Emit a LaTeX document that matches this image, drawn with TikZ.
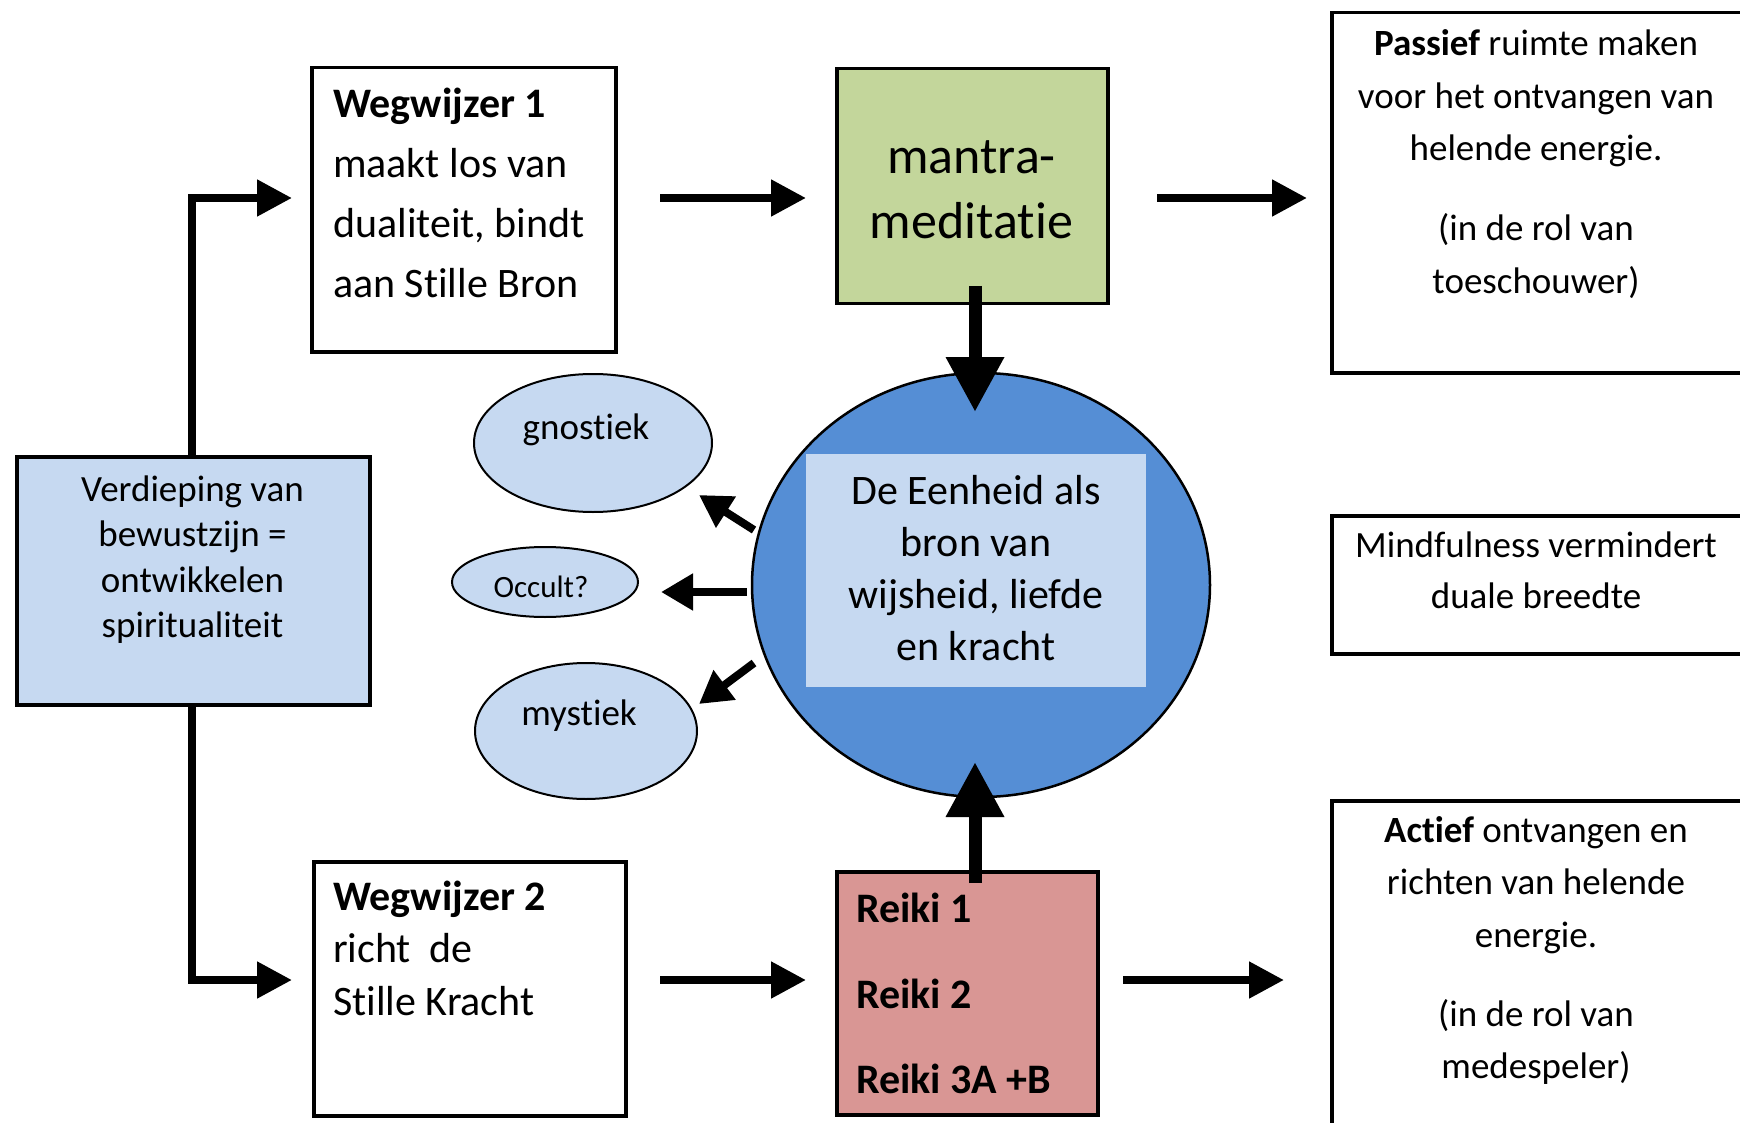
\documentclass[tikz,border=0pt]{standalone}
\usepackage{fontspec}
\setmainfont{Carlito}[Ligatures={NoCommon}]
\usetikzlibrary{arrows.meta,shapes.geometric}
\definecolor{lblue}{HTML}{C6D9F1}
\definecolor{mgreen}{HTML}{C3D69B}
\definecolor{mpink}{HTML}{D99694}
\definecolor{mblue}{HTML}{558ED5}
\begin{document}
\begin{tikzpicture}[x=1pt,y=-1pt,line join=miter,
  box/.style={draw=black,line width=3.5pt,rectangle,inner sep=0pt,anchor=north west},
  harrow/.style={line width=8pt,-{Triangle[length=35pt,width=35pt]}},
  varrow/.style={line width=13pt,-{Triangle[length=55pt,width=55pt]}},
  darrow/.style={line width=8pt,-{Triangle[length=32pt,width=35pt]}},
  txt/.style={inner sep=0pt,anchor=north,align=center},
  ltxt/.style={inner sep=0pt,anchor=north west,align=left},
  bubble/.style={ellipse,draw=black,line width=2pt,fill=lblue,inner sep=0pt},
  btxt/.style={inner sep=0pt,anchor=base}]
\useasboundingbox (0,0) rectangle (1740,1123);
\clip (0,0) rectangle (1740,1123);
\fill[white] (0,0) rectangle (1740,1123);

% boxes
\node[box,minimum width=304,minimum height=284] (w1) at (310,66) {};
\node[box,fill=mgreen,minimum width=271,minimum height=235] (mm) at (835,67) {};
\node[box,minimum width=500,minimum height=360] (pas) at (1330,11) {};
\node[box,fill=lblue,minimum width=353,minimum height=248] (verd) at (15,455) {};
\node[box,minimum width=500,minimum height=138] (mind) at (1330,514) {};
\node[box,minimum width=500,minimum height=400] (act) at (1330,799) {};
\node[box,minimum width=312,minimum height=254] (w2) at (312,860) {};
\node[box,fill=mpink,minimum width=261,minimum height=243] (rei) at (835,870) {};

% central ellipse
\node[ellipse,draw=black,line width=2.5pt,fill=mblue,minimum width=458,minimum height=424,inner sep=0pt] (een) at (981,585) {};
\node[fill=lblue,minimum width=340,minimum height=233,inner sep=0pt,anchor=north west] (eenbox) at (806,454) {};

% small ellipses
\node[bubble,minimum width=238,minimum height=138] (gno) at (593,443) {};
\node[bubble,minimum width=186,minimum height=70] (occ) at (545,582) {};
\node[bubble,minimum width=222,minimum height=136] (mys) at (586,731) {};

% texts
\node[ltxt,font=\fontsize{42}{60}\selectfont] (w1t) at (333,75) {\strut\textbf{Wegwijzer 1}\\maakt los van\\dualiteit, bindt\\aan Stille Bron};
\node[txt,font=\fontsize{52}{65}\selectfont] (mmt) at (971.5,128) {\strut mantra-\\meditatie};
\node[txt,font=\fontsize{37}{52.5}\selectfont] (past) at (1536,19) {\strut\textbf{Passief} ruimte maken\\voor het ontvangen van\\helende energie.\\[27.5pt](in de rol van\\toeschouwer)};
\node[txt,font=\fontsize{37}{45.5}\selectfont] (verdt) at (192.5,469) {\strut Verdieping van\\bewustzijn =\\ontwikkelen\\spiritualiteit};
\node[txt,font=\fontsize{42}{52}\selectfont] (eent) at (976,467.5) {\strut De Eenheid als\\bron van\\wijsheid, liefde\\en kracht};
\node[txt,font=\fontsize{37}{51}\selectfont] (mindt) at (1536,521.5) {\strut Mindfulness vermindert\\duale breedte};
\node[txt,font=\fontsize{37}{52.5}\selectfont] (actt) at (1536,805.5) {\strut\textbf{Actief} ontvangen en\\richten van helende\\energie.\\[26.5pt](in de rol van\\medespeler)};
\node[ltxt,font=\fontsize{42}{52.5}\selectfont] (w2t) at (333,873.5) {\strut\textbf{Wegwijzer 2}\\richt\ \ de\\Stille Kracht};
\node[ltxt,font=\fontsize{42}{85.5}\bfseries\selectfont] (reit) at (856,862.5) {\strut Reiki 1\\Reiki 2\\Reiki 3A +B};
\node[btxt,font=\fontsize{37}{44}\selectfont] (gnot) at (586,439) {gnostiek};
\node[btxt,font=\fontsize{31}{37}\selectfont] (occt) at (541,597) {Occult?};
\node[btxt,font=\fontsize{37}{44}\selectfont] (myst) at (579,725) {mystiek};

% connector end points
\coordinate (w1in) at (292,198);
\coordinate (w2in) at (292,980);
\coordinate (a1s) at (660,198);  \coordinate (a1e) at (806,198);
\coordinate (a2s) at (1157,198); \coordinate (a2e) at (1307,198);
\coordinate (a3s) at (660,980);  \coordinate (a3e) at (806,980);
\coordinate (a4s) at (1123,980); \coordinate (a4e) at (1284,980);
\coordinate (v1s) at (975,286);  \coordinate (v1e) at (975,412);
\coordinate (v2s) at (975,883);  \coordinate (v2e) at (975,762);
\coordinate (d1s) at (754,530);  \coordinate (d1e) at (699,495);
\coordinate (d2s) at (747,592);  \coordinate (d2e) at (661,592);
\coordinate (d3s) at (754,663);  \coordinate (d3e) at (699,704);

% connectors
\draw[harrow] ([xshift=-1.5pt]verd.north) |- (w1in);
\draw[harrow] ([xshift=-1.5pt]verd.south) |- (w2in);
\draw[harrow] (a1s) -- (a1e);
\draw[harrow] (a2s) -- (a2e);
\draw[harrow] (a3s) -- (a3e);
\draw[harrow] (a4s) -- (a4e);
\draw[varrow] (v1s) -- (v1e);
\draw[varrow] (v2s) -- (v2e);
\draw[darrow] (d1s) -- (d1e);
\draw[darrow] (d2s) -- (d2e);
\draw[darrow] (d3s) -- (d3e);
\end{tikzpicture}
\end{document}
